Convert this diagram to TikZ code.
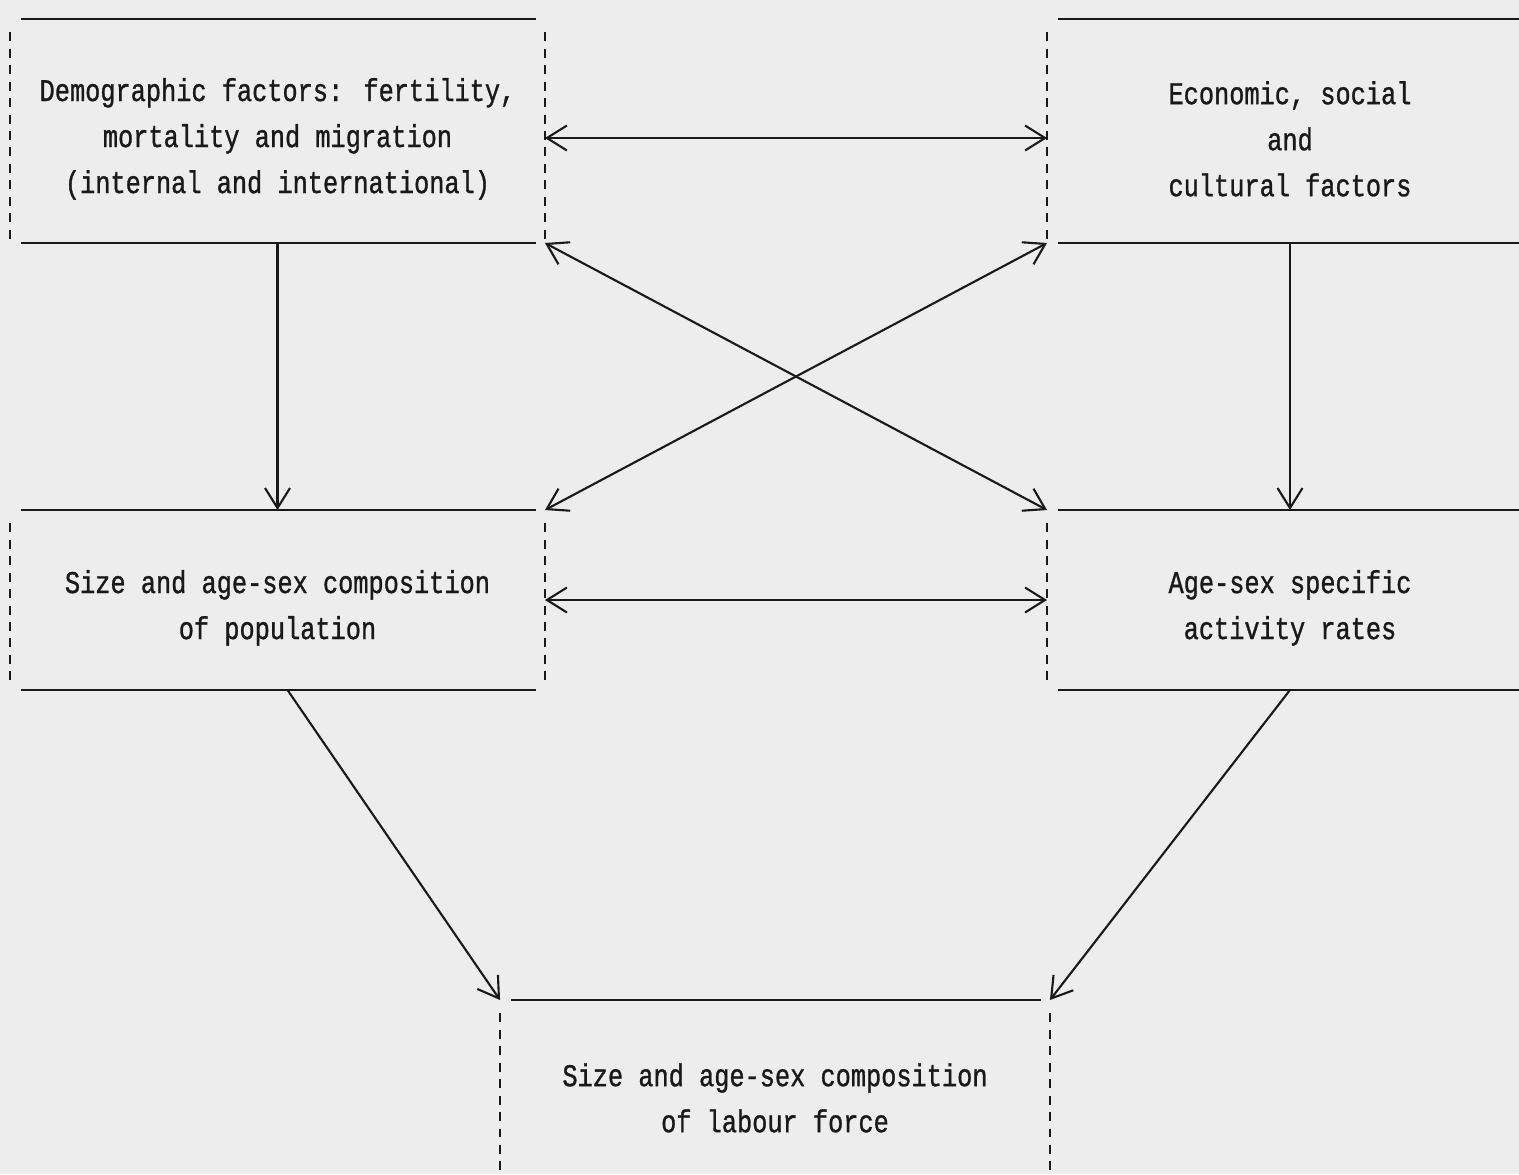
\documentclass[tikz,border=0pt]{standalone}
\usepackage{fontspec}
\newfontfamily\typefont{Liberation Mono}[FakeStretch=0.8,FakeBold=1]
\usetikzlibrary{arrows.meta}
\definecolor{paper}{gray}{0.93}
\definecolor{ink}{gray}{0.1}
\newcommand{\topgap}{\rule{0pt}{22pt}}
\begin{document}
\begin{tikzpicture}[x=0.02cm,y=-0.02cm,
  boxnode/.style={inner sep=0pt, outer sep=0pt, align=center, text=ink,
    font=\typefont\fontsize{18}{26.2}\selectfont},
  rule/.style={draw=ink, line width=1.3pt},
  side/.style={draw=ink, line width=1.2pt, dash pattern=on 0.18cm off 0.15cm},
  link/.style={draw=ink, line width=1.2pt, -{Straight Barb[length=0.4cm,width=0.5cm,line width=1.2pt]}},
  twoway/.style={link, {Straight Barb[length=0.4cm,width=0.5cm,line width=1.2pt]}-{Straight Barb[length=0.4cm,width=0.5cm,line width=1.2pt]}}]
\useasboundingbox (0,0) rectangle (1519,1174);
\clip (0,0) rectangle (1519,1174);
\fill[paper] (0,0) rectangle (1519,1174);
\node[boxnode, minimum width=10.7cm, minimum height=4.48cm] (demo) at (277.5,131) {\topgap Demographic factors: fertility,\\mortality and migration\\(internal and international)};
\node[boxnode, minimum width=9.72cm, minimum height=4.48cm] (econ) at (1290,131) {\topgap Economic, social\\and\\cultural factors};
\node[boxnode, minimum width=10.7cm, minimum height=3.6cm] (popn) at (277.5,600) {\topgap Size and age-sex composition\\of population};
\node[boxnode, minimum width=9.72cm, minimum height=3.6cm] (rates) at (1290,600) {\topgap Age-sex specific\\activity rates};
\node[boxnode, minimum width=11cm, minimum height=3.6cm] (labour) at (775,1090) {\topgap Size and age-sex composition\\of labour force};
% box edges: solid top and bottom, dashed sides
\foreach \b in {demo,econ,popn,rates,labour} {
  \draw[rule] ([xshift=0.22cm]\b.north west) -- ([xshift=-0.18cm]\b.north east);
  \draw[rule] ([xshift=0.22cm]\b.south west) -- ([xshift=-0.18cm]\b.south east);
  \draw[side] ([yshift=-0.26cm]\b.north west) -- ([yshift=0.06cm]\b.south west);
  \draw[side] ([yshift=-0.26cm]\b.north east) -- ([yshift=0.06cm]\b.south east);
}
% connectors
\draw[twoway] ([yshift=-0.14cm]demo.east) -- ([yshift=-0.14cm]econ.west);
\draw[twoway] (popn.east) -- (rates.west);
\draw[link] (demo.south) -- (popn.north);
\draw[link] (econ.south) -- (rates.north);
\draw[twoway] (demo.south east) -- (rates.north west);
\draw[twoway] (econ.south west) -- (popn.north east);
\draw[link] ([xshift=0.2cm]popn.south) -- (labour.north west);
\draw[link] (rates.south) -- (labour.north east);
\end{tikzpicture}
\end{document}
